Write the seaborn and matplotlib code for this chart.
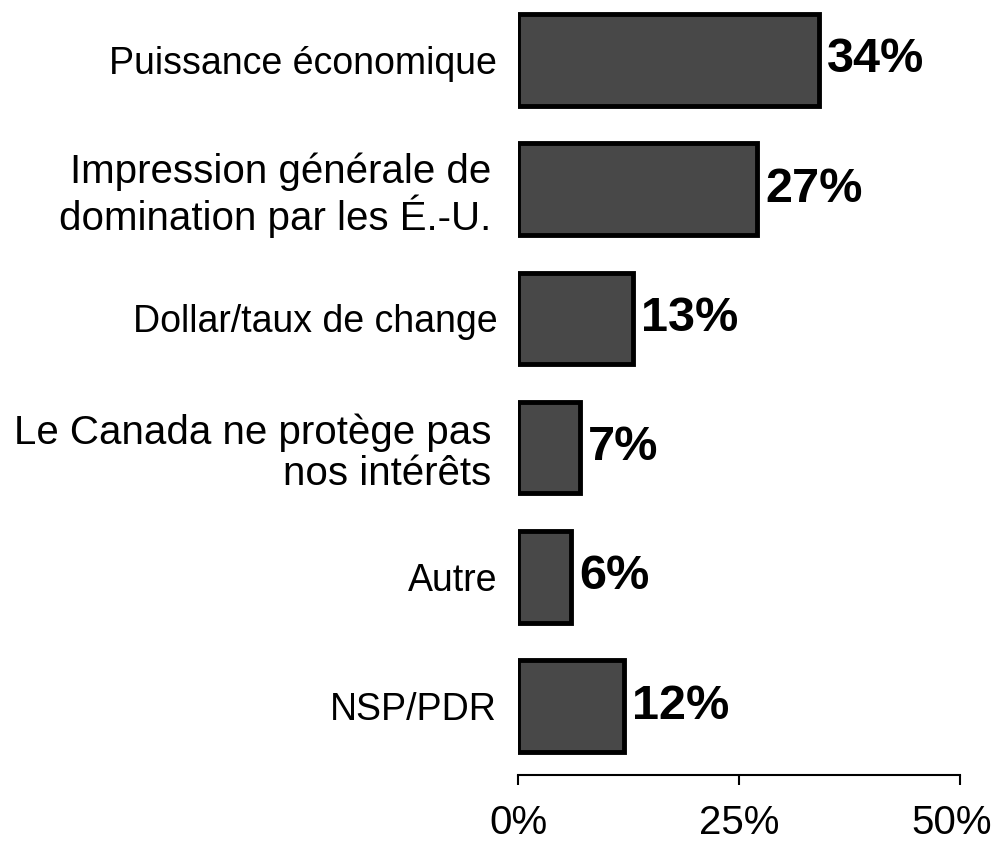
import seaborn as sns
import matplotlib.pyplot as plt
import matplotlib.transforms as mtransforms
import pandas as pd

# Données
categories = [
    'Puissance économique',
    'Impression générale de\ndomination par les É.-U.',
    'Dollar/taux de change',
    'Le Canada ne protège pas\nnos intérêts',
    'Autre',
    'NSP/PDR',
]
valeurs = [34, 27, 13, 7, 6, 12]
ticks = [0, 25, 50]
tick_labels = ['0%', '25%', '50%']

df = pd.DataFrame({'Categorie': categories, 'Valeur': valeurs})

sns.set_style('white')
plt.rcParams['font.family'] = ['Liberation Sans', 'DejaVu Sans']
plt.rcParams['text.color'] = 'black'
plt.rcParams['xtick.color'] = 'black'
plt.rcParams['ytick.color'] = 'black'

fig = plt.figure(figsize=(9.98, 8.43), dpi=100)
ax = fig.add_axes([518 / 998, 1 - 775 / 843, (960 - 518) / 998, 775 / 843])

# Barres horizontales
sns.barplot(data=df, x='Valeur', y='Categorie', orient='h', color='#484848',
            saturation=1, width=0.71, edgecolor='black', linewidth=3.5, ax=ax)

# Étiquettes de valeurs
for i, v in enumerate(valeurs):
    ax.annotate(f'{v}%', xy=(v, i), xytext=(6, 0), textcoords='offset points',
                ha='left', va='center', fontsize=35, fontweight='bold', color='black')

ax.set_xlim(0, 50)
ax.set_ylim(5.534, -0.464)
ax.set_xticks(ticks)
ax.set_xticklabels(tick_labels, fontsize=29)
ax.set_xlabel('')
ax.set_ylabel('')

ax.tick_params(axis='y', length=0, pad=15, labelsize=27, labelcolor='black')
ax.tick_params(axis='x', length=7, width=1.5, color='black', direction='out',
               pad=14, bottom=True, labelcolor='black')

# le libellé 50% légèrement décalé vers la gauche
lab50 = ax.get_xticklabels()[-1]
lab50.set_transform(lab50.get_transform() +
                    mtransforms.ScaledTranslation(-8 / 100, 0, fig.dpi_scale_trans))

# Libellés sur deux lignes : un peu plus grands et décalés
for lab in ax.get_yticklabels():
    if '\n' in lab.get_text():
        lab.set_fontsize(29)
        lab.set_linespacing(1.1)
        lab.set_multialignment('right')
        lab.set_transform(lab.get_transform() +
                          mtransforms.ScaledTranslation(-6 / 100, 0, fig.dpi_scale_trans))

sns.despine(ax=ax, left=True, top=True, right=True, bottom=False)
ax.spines['bottom'].set_color('black')
ax.spines['bottom'].set_linewidth(1.5)

fig.savefig('out.png', dpi=100)
